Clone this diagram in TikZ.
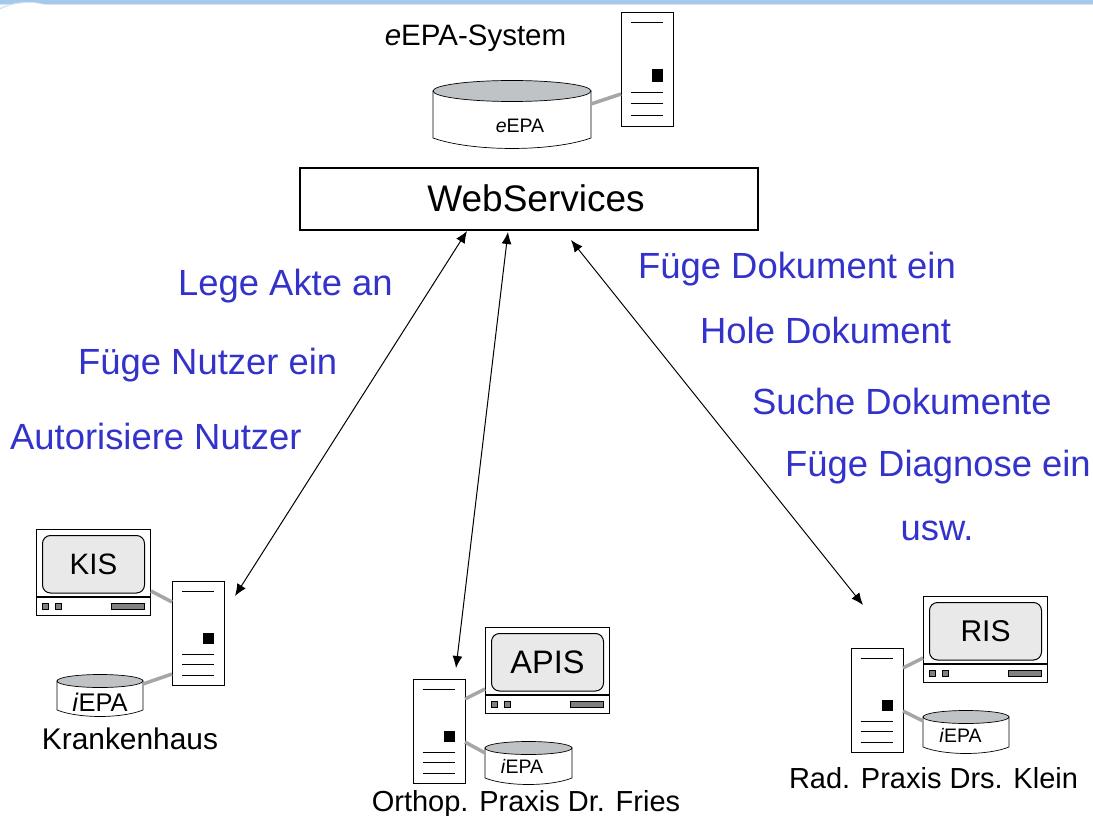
\documentclass[tikz,border=0pt]{standalone}
\usepackage{fontspec}
\setmainfont{Liberation Sans}
\usetikzlibrary{arrows.meta}
\definecolor{bluetext}{HTML}{3333CC}
\definecolor{barblue}{HTML}{A5C9E9}
\definecolor{barpale}{HTML}{D3E5F5}
\definecolor{dbtop}{HTML}{BFC3C5}
\definecolor{scr}{HTML}{E9E9E9}
\definecolor{btn}{HTML}{808080}
\tikzset{
  x=1pt,y=-1pt,
  box/.style={draw=black,line width=1.1pt,fill=white,inner sep=0pt},
  bigbox/.style={box,minimum width=458pt,minimum height=62pt},
  srvbox/.style={box,minimum width=52pt,minimum height=104pt},
  srvline/.style={black,line width=.9pt},
  link/.style={draw=black!35,line width=3.5pt},
  dbl/.style={black,line width=1pt,{Latex[length=12pt,width=10pt]}-{Latex[length=12pt,width=10pt]}},
  blue/.style={anchor=base west,text=bluetext,font=\fontsize{36.4}{40}\selectfont,inner sep=0pt},
  lab/.style={anchor=base,text=black,inner sep=0pt},
  dbtext/.style={anchor=base,text=black,inner sep=0pt},
}
% server: name, left, top, height
\newcommand{\srv}[4]{%
  \node[srvbox,anchor=north west,minimum height=#4pt] (#1) at (#2,#3) {};
  \draw[srvline] (#2+10,#3+10) -- (#2+42,#3+10);
  \fill[black] (#2+31,{#3+#4*0.5}) rectangle (#2+42,{#3+#4*0.61});
  \draw[srvline] (#2+10,{#3+#4*0.702}) -- (#2+42,{#3+#4*0.702});
  \draw[srvline] (#2+10,{#3+#4*0.803}) -- (#2+42,{#3+#4*0.803});
  \draw[srvline] (#2+10,{#3+#4*0.904}) -- (#2+42,{#3+#4*0.904});
}
% monitor: name, left, top, width, text, font size
\newcommand{\mon}[6]{%
  \node[box,anchor=north west,minimum width=#4pt,minimum height=86pt] (#1) at (#2,#3) {};
  \node[draw=black,line width=1pt,fill=scr,rounded corners=8pt,anchor=north west,inner sep=0pt,
        minimum width=#4pt-12pt,minimum height=57.5pt,font=\fontsize{#6}{32}\selectfont] (#1s) at (#2+6,#3+6) {#5};
  \draw[black,line width=1.2pt] (#2,#3+68) -- (#2+#4,#3+68);
  \draw[black,fill=btn,line width=.6pt] (#2+6,#3+74) rectangle (#2+12.5,#3+80);
  \draw[black,fill=btn,line width=.6pt] (#2+19,#3+74) rectangle (#2+25.5,#3+80);
  \draw[black,fill=btn,line width=.6pt] (#2+#4-39,#3+74) rectangle (#2+#4-6,#3+80);
}
% cylinder: name, left, right, top centre y, ry, side bottom y
\newcommand{\cyl}[6]{%
  \path[draw=black,line width=.7pt,fill=white] (#2,#4) -- (#2,#6)
    .. controls (#2+.25*#3-.25*#2,#6+1.33*#5) and (#2+.75*#3-.75*#2,#6+1.33*#5) .. (#3,#6) -- (#3,#4) -- cycle;
  \path[draw=black,line width=.7pt,fill=dbtop] ({(#2+#3)/2},#4) ellipse [x radius={(#3-#2)/2},y radius=#5];
  \coordinate (#1) at ({(#2+#3)/2},#4);
}
\begin{document}
\begin{tikzpicture}
\useasboundingbox (0,0) rectangle (1093,816);
\fill[white] (0,0) rectangle (1093,816);
% title band
\fill[barpale] (0,0) rectangle (1093,5);
\fill[barblue] (0,0) rectangle (1093,4);
\fill[barpale] (0,8) .. controls (8,4) and (18,2) .. (30,2) .. controls (36,2) and (40,3) .. (46,5) -- (0,12) -- cycle;
\fill[white] (0,10) .. controls (8,5) and (18,3) .. (30,3) .. controls (36,3) and (40,4) .. (46,5) -- (46,7) -- (0,12) -- cycle;
% eEPA system
\node[lab,font=\fontsize{29.5}{32}\selectfont] (sysl) at (475.5,46) {\textit{e}EPA-System};
\srv{s0}{621}{12}{114}
\cyl{d0}{433}{591}{91}{10.5}{138}
\node[dbtext,font=\fontsize{19.5}{22}\selectfont] (d0t) at (520,132) {\textit{e}EPA};
\coordinate (d0r) at (591,104); \coordinate (s0l) at (621,94);
\draw[link] (d0r) -- (s0l);
% WebServices
\node[bigbox] (ws) at (529,199) {};
\node[inner sep=0pt,font=\fontsize{37}{40}\selectfont] (wst) at (536,198) {WebServices};
% KIS
\mon{m1}{36}{529}{114}{KIS}{29.5}
\srv{s1}{172}{581}{104}
\cyl{d1}{57}{143}{681}{6.5}{710}
\node[dbtext,font=\fontsize{25.5}{28}\selectfont] (d1t) at (100,711) {\textit{i}EPA};
\node[lab,font=\fontsize{29.9}{32}\selectfont] (l1) at (130,749) {Krankenhaus};
\coordinate (a1) at (151,591); \coordinate (b1) at (172,602);
\coordinate (a2) at (143,684); \coordinate (b2) at (172,674);
\draw[link] (a1) -- (b1); \draw[link] (a2) -- (b2);
% APIS
\mon{m2}{485}{627}{124}{APIS}{32.5}
\srv{s2}{412.5}{679}{104}
\cyl{d2}{485}{572}{748}{6.5}{778}
\node[dbtext,font=\fontsize{19.5}{22}\selectfont] (d2t) at (522,773) {\textit{i}EPA};
\node[lab,font=\fontsize{29}{32}\selectfont] (l2) at (526,811) {Orthop. Praxis Dr. Fries};
\coordinate (a3) at (465,699); \coordinate (b3) at (485,689);
\coordinate (a4) at (465,742); \coordinate (b4) at (485,753);
\draw[link] (a3) -- (b3); \draw[link] (a4) -- (b4);
% RIS
\mon{m3}{923}{596}{124}{RIS}{30}
\srv{s3}{850.5}{648}{104}
\cyl{d3}{923}{1009}{717}{6.5}{747}
\node[dbtext,font=\fontsize{19.5}{22}\selectfont] (d3t) at (960.5,742) {\textit{i}EPA};
\node[lab,font=\fontsize{29}{32}\selectfont] (l3) at (933.5,788) {Rad. Praxis Drs. Klein};
\coordinate (a5) at (903,668); \coordinate (b5) at (923,658);
\coordinate (a6) at (903,711); \coordinate (b6) at (923,721);
\draw[link] (a5) -- (b5); \draw[link] (a6) -- (b6);
% arrows
\coordinate (w1) at (467,231); \coordinate (e1) at (235,596);
\coordinate (w2) at (508,232); \coordinate (e2) at (456,668);
\coordinate (w3) at (571,240); \coordinate (e3) at (863,605);
\draw[dbl] (w1) -- (e1);
\draw[dbl] (w2) -- (e2);
\draw[dbl] (w3) -- (e3);
% blue labels
\node[blue] (t1) at (178,295) {Lege Akte an};
\node[blue] (t2) at (78,374) {Füge Nutzer ein};
\node[blue] (t3) at (10,449) {Autorisiere Nutzer};
\node[blue] (t4) at (638,278) {Füge Dokument ein};
\node[blue] (t5) at (700,343) {Hole Dokument};
\node[blue] (t6) at (752,414) {Suche Dokumente};
\node[blue] (t7) at (785,476) {Füge Diagnose ein};
\node[blue] (t8) at (900.5,540) {usw.};
\end{tikzpicture}
\end{document}
